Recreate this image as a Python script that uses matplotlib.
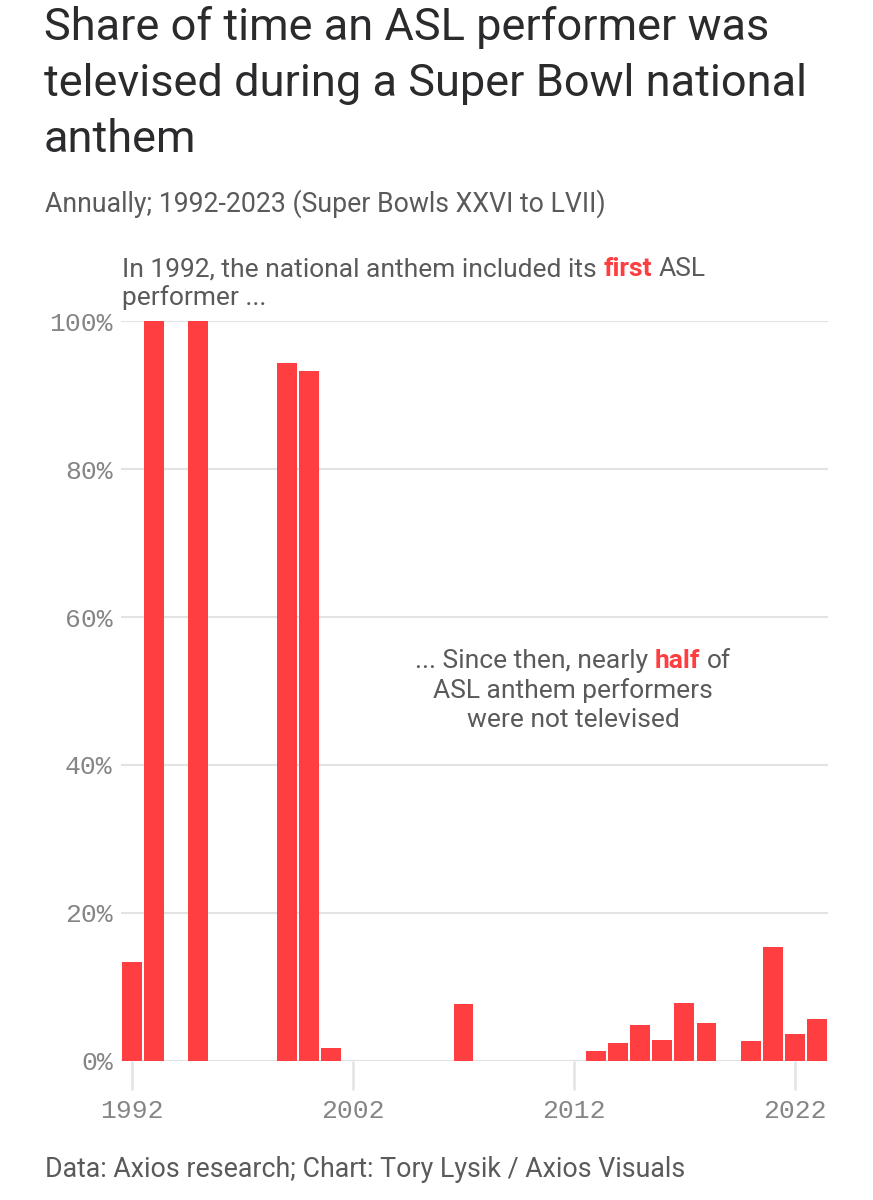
import matplotlib
matplotlib.use('Agg')
import matplotlib.pyplot as plt
from matplotlib.ticker import FuncFormatter

W, H = 873, 1200

years = [1992, 1993, 1995, 1999, 2000, 2001, 2007,
         2013, 2014, 2015, 2016, 2017, 2018, 2020, 2021, 2022, 2023]
share = [13.4, 100, 100, 94.3, 93.3, 1.8, 7.7,
         1.3, 2.4, 4.8, 2.8, 7.9, 5.2, 2.7, 15.4, 3.6, 5.7]
x_ticks = [1992, 2002, 2012, 2022]
y_ticks = [0, 20, 40, 60, 80, 100]

title = ['Share of time an ASL performer was',
         'televised during a Super Bowl national',
         'anthem']
subtitle = 'Annually; 1992-2023 (Super Bowls XXVI to LVII)'
footer = 'Data: Axios research; Chart: Tory Lysik / Axios Visuals'

red = '#ff3e41'
dark = '#2b2b2e'
gray = '#5a5a5a'
tick_gray = '#858585'
grid_gray = '#e3e3e3'

plt.rcParams['font.family'] = ['Roboto', 'DejaVu Sans']

fig = plt.figure(figsize=(W / 100, H / 100), dpi=100)
fig.patch.set_facecolor('white')


def fx(x):
    return x / W


def fy(y):
    return 1 - y / H


ax = fig.add_axes([fx(121), fy(1061), fx(828) - fx(121), fy(321) - fy(1061)])
ax.bar(years, share, width=0.9, color=red, zorder=3)
ax.set_xlim(1991.5, 2023.5)
ax.set_ylim(0, 100)
ax.set_yticks(y_ticks)
ax.set_xticks(x_ticks)
ax.yaxis.set_major_formatter(FuncFormatter(lambda v, p: f'{int(v)}%'))
ax.grid(axis='y', color=grid_gray, linewidth=1.5, zorder=0)
for s in ax.spines.values():
    s.set_visible(False)
ax.tick_params(axis='y', length=0, pad=6, labelsize=19, labelcolor=tick_gray)
ax.tick_params(axis='x', length=21, width=1.8, color=grid_gray, pad=6,
               labelsize=19, labelcolor=tick_gray)
for lab in ax.get_xticklabels() + ax.get_yticklabels():
    lab.set_family('Liberation Mono')

for i, line in enumerate(title):
    fig.text(fx(44), fy(40 + i * 56), line, fontsize=32.5, color=dark,
             va='baseline', ha='left')
fig.text(fx(45), fy(212), subtitle, fontsize=19.2, color=gray, va='baseline')
fig.text(fx(45), fy(1177), footer, fontsize=19.3, color=gray, va='baseline')

renderer = fig.canvas.get_renderer()


def rich_line(parts, x, y, ha='left', size=19):
    texts = []
    for s, color, weight in parts:
        t = fig.text(0, fy(y), s, color=color, fontweight=weight,
                     fontsize=size, va='baseline')
        texts.append(t)
    sp = fig.text(0, 0, 'a a', fontsize=size)
    sp2 = fig.text(0, 0, 'aa', fontsize=size)
    space = sp.get_window_extent(renderer).width - sp2.get_window_extent(renderer).width
    sp.remove()
    sp2.remove()
    widths = [t.get_window_extent(renderer).width for t in texts]
    total = sum(widths) + space * (len(texts) - 1)
    start = x - total / 2 if ha == 'center' else x
    for t, w in zip(texts, widths):
        t.set_x(fx(start))
        start += w + space


rich_line([('In 1992, the national anthem included its', gray, 'normal'),
           ('first', red, 'bold'),
           ('ASL', gray, 'normal')], 122, 276)
rich_line([('performer ...', gray, 'normal')], 122, 305)

rich_line([('... Since then, nearly', gray, 'normal'),
           ('half', red, 'bold'),
           ('of', gray, 'normal')], 573, 668, ha='center')
rich_line([('ASL anthem performers', gray, 'normal')], 573, 698, ha='center')
rich_line([('were not televised', gray, 'normal')], 573, 727, ha='center')

fig.savefig('out.png', dpi=100, facecolor='white')
